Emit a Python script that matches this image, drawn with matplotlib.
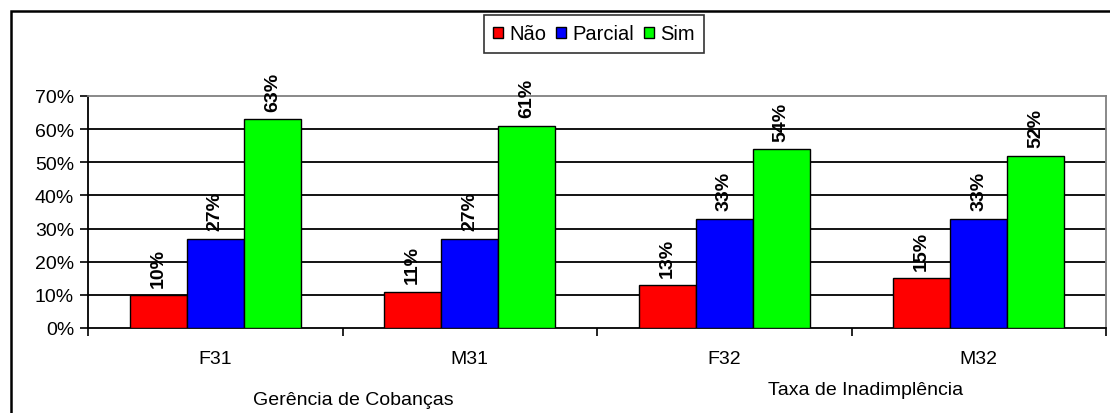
import matplotlib
matplotlib.use("Agg")
import matplotlib.pyplot as plt
from matplotlib.patches import Patch, Rectangle
import numpy as np

plt.rcParams['font.family'] = ['Liberation Sans', 'DejaVu Sans']

categories = ['F31', 'M31', 'F32', 'M32']
groups = ['Gerência de Cobanças', 'Taxa de Inadimplência']
series = ['Não', 'Parcial', 'Sim']
nao = [10, 11, 13, 15]
parcial = [27, 27, 33, 33]
sim = [63, 61, 54, 52]
colors = ['#FF0000', '#0000FF', '#00FF00']

W, H = 1110, 414
fig = plt.figure(figsize=(W / 100, H / 100), dpi=100)
ax = fig.add_axes([88 / W, 1 - 329 / H, (1106 - 88) / W, (329 - 97) / H])

x = np.arange(len(categories))
bw = 0.224
for i, (vals, c) in enumerate(zip([nao, parcial, sim], colors)):
    pos = x + (i - 1) * bw
    bars = ax.bar(pos, vals, width=bw, color=c, edgecolor='black',
                  linewidth=1.0, zorder=3)
    for b, v in zip(bars, vals):
        ax.annotate(f'{v}%', (b.get_x() + b.get_width() / 2, v),
                    xytext=(0, 6), textcoords='offset points',
                    rotation=90, ha='center', va='bottom',
                    fontsize=14, fontweight='bold', zorder=4)

ax.set_xlim(-0.5, len(categories) - 0.5)
ax.set_ylim(0, 70)
ax.set_yticks(range(0, 71, 10))
ax.set_yticklabels([f'{v}%' for v in range(0, 71, 10)], fontsize=14)
ax.tick_params(axis='y', length=6, width=1.2, direction='out', pad=4)

# category boundaries get the tick marks, labels sit on minor ticks
ax.set_xticks(np.arange(-0.5, len(categories), 1.0))
ax.set_xticklabels([])
ax.set_xticks(x, minor=True)
ax.set_xticklabels(categories, minor=True, fontsize=14)
ax.tick_params(axis='x', which='major', length=6, width=1.2, direction='out')
ax.tick_params(axis='x', which='minor', length=0, pad=16)

for y in range(10, 70, 10):
    ax.axhline(y, color='black', linewidth=1.3, zorder=1)

ax.spines['left'].set_color('black')
ax.spines['left'].set_linewidth(1.3)
ax.spines['bottom'].set_color('black')
ax.spines['bottom'].set_linewidth(1.3)
for s in ('top', 'right'):
    ax.spines[s].set_color('#808080')
    ax.spines[s].set_linewidth(1.3)

fig.text(353 / W, 1 - 401 / H, groups[0], ha='center', va='center', fontsize=14)
fig.text(866 / W, 1 - 391 / H, groups[1], ha='center', va='center', fontsize=14)

handles = [Patch(facecolor=c, edgecolor='black', linewidth=1.0) for c in colors]
leg = fig.legend(handles, series, loc='center', bbox_to_anchor=(594 / W, 1 - 35 / H),
                 ncol=3, fontsize=14.5, frameon=True, fancybox=False,
                 handlelength=0.5, handleheight=0.5, handletextpad=0.3,
                 columnspacing=0.5, borderpad=0.45, borderaxespad=0)
leg.get_frame().set_edgecolor('black')
leg.get_frame().set_linewidth(1.2)

# outer chart frame, running past the right and bottom edges
fig.patches.append(Rectangle((11 / W, -0.2), 1.2, 1.2 - 12 / H,
                             transform=fig.transFigure, fill=False,
                             edgecolor='black', linewidth=1.8, clip_on=False))

fig.savefig('out.png', dpi=100)
